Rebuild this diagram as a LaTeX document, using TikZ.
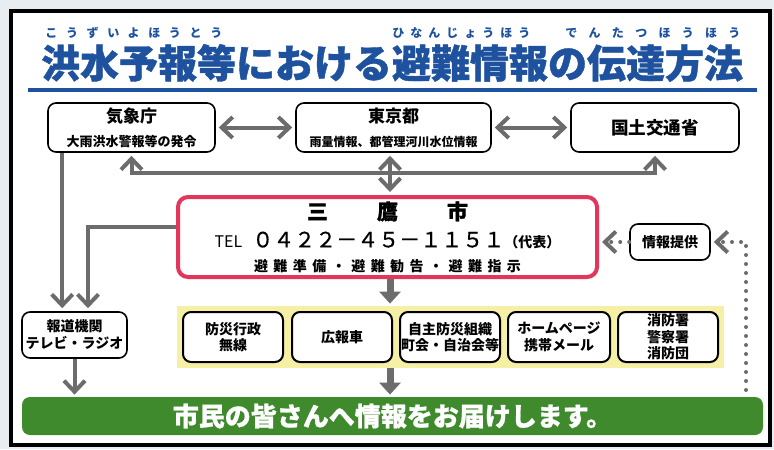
\documentclass[tikz,border=0pt]{standalone}
\usepackage{fontspec}
\setmainfont{Noto Sans CJK JP}
\usetikzlibrary{arrows.meta}
\definecolor{titleblue}{RGB}{30,82,158}
\definecolor{linkgray}{RGB}{108,108,108}
\definecolor{mitakared}{RGB}{226,54,92}
\definecolor{bandyellow}{RGB}{245,240,165}
\definecolor{bargreen}{RGB}{62,138,44}
\definecolor{paper}{RGB}{231,237,240}

\begin{document}
\begin{tikzpicture}[x=.5pt,y=-.5pt,
    >={Straight Barb[length=5.5pt,width=10.5pt]},
    box/.style={draw,line width=.8pt,rounded corners=4pt,fill=white,align=center,inner sep=0pt,font=\bfseries},
    unit/.style={box,line width=1pt,minimum width=100*\px,minimum height=50*\px,font=\bfseries\fontsize{7}{8.3}\selectfont},
    ruby/.style={anchor=west,inner sep=0pt,text=titleblue,font=\bfseries\fontsize{6}{6}\selectfont},
    link/.style={linkgray,line width=2pt},
    big/.style={linkgray,line width=3.5pt,-{Triangle[length=6pt,width=10.5pt]},shorten >=1pt},
    dots/.style={linkgray,line width=2pt,dash pattern=on 0pt off 4.5pt,line cap=round,shorten >=1.5pt}]
    \def\px{.5pt}
    \fill[paper] (0,0) rectangle (774,449);
    \draw[line width=2.4pt,fill=white] (11,11) rectangle (770,445);

    % title
    \node[inner sep=0pt,text=titleblue,font=\bfseries\fontsize{19.5}{20}\selectfont\addfontfeatures{FakeBold=1}] (title) at (392,63)
      {洪水予報等における避難情報の伝達方法};
    \node[ruby] (ruby1) at (45,33) {\addfontfeatures{LetterSpace=72}こうずいよほうとう};
    \node[ruby] (ruby2) at (392,33) {\addfontfeatures{LetterSpace=50}ひなんじょうほう};
    \node[ruby] (ruby3) at (565,33) {\addfontfeatures{LetterSpace=94}でんたつほうほう};
    \draw[titleblue,line width=1.6pt] (28,90) -- (757,90);

    \node[box,minimum width=167*\px,minimum height=49*\px] (kishou) at (131.5,127.5)
      {\fontsize{8.5}{10}\selectfont 気象庁\\\fontsize{6.5}{10}\selectfont 大雨洪水警報等の発令};
    \node[box,minimum width=195*\px,minimum height=49*\px] (tokyo) at (393.5,127.5)
      {\fontsize{8.5}{11}\selectfont 東京都\\\fontsize{6}{11}\selectfont 雨量情報、都管理河川水位情報};
    \node[box,minimum width=168*\px,minimum height=49*\px] (kokudo) at (655,127.5)
      {\fontsize{8.8}{10}\selectfont 国土交通省};

    \node[box,draw=mitakared,line width=2pt,rounded corners=5pt,minimum width=419*\px,minimum height=80*\px] (mitaka) at (387.5,237)
      {\fontsize{10.5}{11}\selectfont\addfontfeatures{FakeBold=1}三\hspace{24.5pt}鷹\hspace{24.5pt}市\\[2pt]
       {\mdseries\fontsize{8}{11}\selectfont TEL}\hspace{5pt}{\mdseries\fontsize{10.5}{11}\selectfont\addfontfeatures{FakeBold=0.6}０４２２－４５－１１５１}{\fontsize{7}{11}\selectfont（代表）}\\
       {\fontsize{7}{11}\selectfont\addfontfeatures{LetterSpace=39}避難準備・避難勧告・避難指示}};

    \node[box,minimum width=105*\px,minimum height=46*\px,font=\bfseries\fontsize{7}{8.5}\selectfont] (houdou) at (74.5,335)
      {報道機関\\テレビ・ラジオ};

    \node[fill=bandyellow,inner sep=0pt,minimum width=547*\px,minimum height=62*\px] (band) at (450.5,337) {};
    \node[unit] (musen) at (233,337) {防災行政\\無線};
    \node[unit] (kouhou) at (342,337) {広報車};
    \node[unit] (jishu) at (450,337) {自主防災組織\\町会・自治会等};
    \node[unit,minimum width=102*\px] (web) at (559,337) {ホームページ\\携帯メール};
    \node[unit] (shobo) at (668,337) {消防署\\警察署\\消防団};

    \node[box,minimum width=80*\px,minimum height=36*\px,font=\bfseries\fontsize{7}{8}\selectfont] (jouhou) at (670,242) {情報提供};

    \node[fill=bargreen,rounded corners=4pt,inner sep=0pt,minimum width=741*\px,minimum height=38*\px,
      text=white,font=\bfseries\fontsize{13}{14}\selectfont\addfontfeatures{FakeBold=0.8}] (shimin) at (392.5,416) {市民の皆さんへ情報をお届けします。};

    % connectors
    \coordinate (bus) at (390,173);
    \coordinate (feed) at (746,390);
    \draw[link,<->,shorten <=1.5pt,shorten >=1.5pt] (kishou) -- (tokyo);
    \draw[link,<->,shorten <=1.5pt,shorten >=1.5pt] (tokyo) -- (kokudo);
    \draw[link,<->,shorten <=1.5pt,shorten >=1.5pt] (kishou.south) |- (bus) -| (kokudo.south);
    \draw[link,<->,shorten <=1.5pt,shorten >=1.5pt] (tokyo.south -| bus) -- (mitaka.north -| bus);
    \draw[link,->,shorten >=1.5pt] ([xshift=7.5pt]kishou.south west) -- ([xshift=7.5pt]kishou.south west |- houdou.north);
    \draw[link,->,shorten >=1.5pt] ([yshift=5pt]mitaka.west) -| ([xshift=6.75pt]houdou.north);
    \draw[link,->,shorten >=1pt] (houdou.south) -- (houdou.south |- shimin.north);
    \draw[big] (mitaka.south -| bus) -- (band.north -| bus);
    \draw[big] (band.south -| bus) -- (shimin.north -| bus);
    \draw[dots,->] (jouhou.west) -- (jouhou.west -| mitaka.east);
    \draw[dots,->] (feed) |- (jouhou.east);
\end{tikzpicture}
\end{document}
